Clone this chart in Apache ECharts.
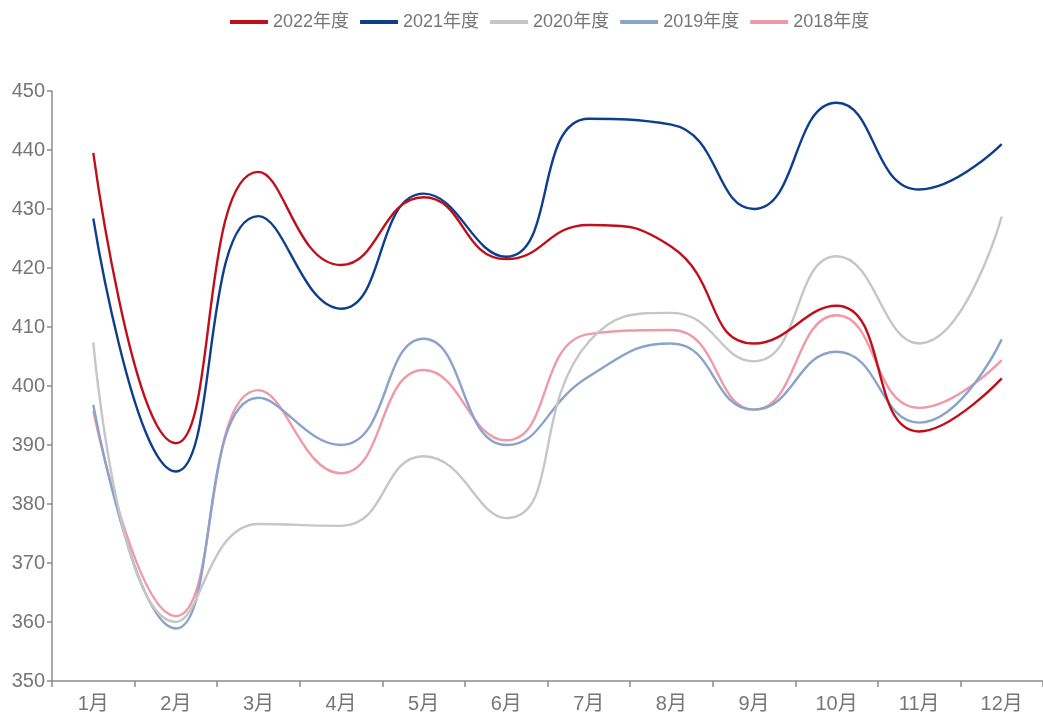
<!DOCTYPE html>
<html>
<head>
<meta charset="utf-8">
<title>年度月度走势</title>
<script src="https://cdn.jsdelivr.net/npm/echarts@6/dist/echarts.min.js"></script>
<style>
  html, body { margin: 0; padding: 0; background: #ffffff; }
  #chart { width: 1043px; height: 716px; }
</style>
</head>
<body>
<div id="chart"></div>
<script>
// Monthly categories and yearly series values
const months = ['1月', '2月', '3月', '4月', '5月', '6月', '7月', '8月', '9月', '10月', '11月', '12月'];
const seriesNames = ['2022年度', '2021年度', '2020年度', '2019年度', '2018年度'];
const y2022 = [439.5, 390.3, 436.3, 420.5, 432.0, 421.5, 427.3, 423.6, 407.2, 413.6, 392.3, 401.3];
const y2021 = [428.4, 385.5, 428.8, 413.1, 432.6, 421.9, 445.3, 444.3, 430.0, 448.0, 433.3, 441.0];
const y2020 = [407.4, 360.0, 376.6, 376.3, 388.1, 377.6, 407.5, 412.4, 404.2, 422.0, 407.2, 428.7];
const y2019 = [396.8, 358.9, 398.0, 390.0, 408.0, 390.0, 401.6, 407.2, 396.0, 405.8, 393.8, 407.9];
const y2018 = [395.8, 361.0, 399.3, 385.2, 402.7, 390.8, 408.8, 409.5, 396.0, 412.0, 396.3, 404.4];
const yTicks = { min: 350, max: 450, interval: 10 };

const colors = ['#c00f1c', '#0d3f8c', '#c6c6c6', '#8aa3cb', '#f09aa8'];
const seriesData = [y2022, y2021, y2020, y2019, y2018];
const textFont = '"Liberation Sans", "Noto Sans CJK SC", sans-serif';
const axisGray = '#8c8c8c';
const labelGray = '#767676';

const chart = echarts.init(document.getElementById('chart'), null, { renderer: 'canvas' });

chart.setOption({
  animation: false,
  backgroundColor: '#ffffff',
  color: colors,
  legend: {
    top: 8,
    left: 225,
    icon: 'rect',
    itemWidth: 38,
    itemHeight: 4,
    itemGap: 11,
    textStyle: { color: labelGray, fontSize: 18, fontFamily: textFont },
    data: seriesNames
  },
  grid: { left: 52, right: -7, top: 91, bottom: 35, containLabel: false },
  xAxis: {
    type: 'category',
    data: months,
    boundaryGap: true,
    axisLine: { show: true, lineStyle: { color: axisGray, width: 1.5 } },
    axisTick: { show: true, alignWithLabel: false, length: 6, lineStyle: { color: axisGray, width: 1.5 } },
    axisLabel: { color: labelGray, fontSize: 20, fontFamily: textFont, margin: 13 },
    splitLine: { show: false }
  },
  yAxis: {
    type: 'value',
    min: yTicks.min,
    max: yTicks.max,
    interval: yTicks.interval,
    axisLine: { show: true, lineStyle: { color: axisGray, width: 1.5 } },
    axisTick: { show: true, inside: false, length: 5, lineStyle: { color: axisGray, width: 1.5 } },
    axisLabel: { color: labelGray, fontSize: 20, fontFamily: textFont, margin: 7 },
    splitLine: { show: false }
  },
  series: seriesNames.map((name, i) => ({
    name: name,
    type: 'line',
    data: seriesData[i],
    smooth: 0.5,
    symbol: 'none',
    lineStyle: { width: 2.4, color: colors[i] },
    itemStyle: { color: colors[i] },
    z: 10 - i
  }))
});
</script>
</body>
</html>
